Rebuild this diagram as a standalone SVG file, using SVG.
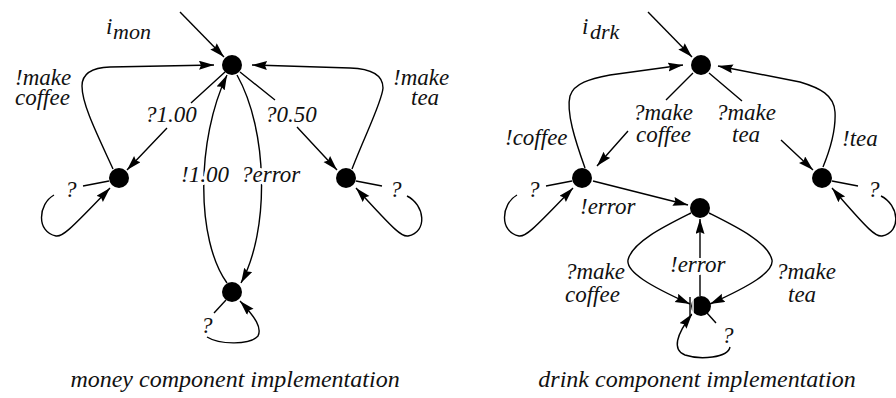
<svg xmlns="http://www.w3.org/2000/svg" width="896" height="398" viewBox="0 0 896 398">
<style>
.e{fill:none;stroke:#000;stroke-width:1.4}
.a{marker-end:url(#ah)}
.n{fill:#000}
.t{font-family:'Liberation Serif','Times New Roman','DejaVu Serif',serif;font-style:italic;font-size:23px;fill:#111}
.s{font-size:22px}
.h{paint-order:stroke;stroke:#fff;stroke-width:6px;stroke-linejoin:round}
.c{text-anchor:middle;font-size:24px}
</style>
<defs>
<marker id="ah" markerWidth="16" markerHeight="10" refX="15" refY="4.5" orient="auto" markerUnits="userSpaceOnUse">
<path d="M0,0 L15,4.5 L0,9 L2,4.5 z" fill="#000"/>
</marker>
</defs>
<rect width="896" height="398" fill="#fff"/>

<g id="connectors">
<path class="e a" d="M180,12 L224,57"/>
<path class="e a" d="M113,169 C96,132 82,104 82,86 Q82,68 110,67 L214,65"/>
<path class="e a" d="M225,72 L191,103 M167,128 L127,170"/>
<path class="e a" d="M227,283 C196,240 196,140 227,75"/>
<path class="e a" d="M237,75 C268,130 270,230 241,283"/>
<path class="e a" d="M240,72 L275,100 M297,127 L337,170"/>
<path class="e a" d="M352,169 C365,135 382,102 383,88 Q383,69 350,68 L252,65"/>
<path class="e" d="M109,181 L83,186"/>
<path class="e a" d="M54,195 C38,204 36,232 56,236 C62,237 68,232 110,188"/>
<path class="e" d="M356,181 L382,186"/>
<path class="e a" d="M407,196 C425,205 428,232 408,236 C402,237 396,232 356,188"/>
<path class="e" d="M226,300 L214,313"/>
<path class="e a" d="M207,337 C220,345 250,345 258,336 C262,328 256,318 240,301"/>
<path class="e a" d="M648,12 L692,57"/>
<path class="e a" d="M585,168 C575,140 566,112 570,96 C574,83 590,79 610,75 L683,65"/>
<path class="e a" d="M693,73 L666,100 M628,131 L597,166"/>
<path class="e a" d="M709,73 L742,101 M781,140 L813,170"/>
<path class="e a" d="M823,167 C830,150 836,130 835,112 C834,95 820,88 800,82 L718,66"/>
<path class="e a" d="M593,181 L688,205"/>
<path class="e a" d="M691,213 C665,226 632,242 628,260 C626,272 650,286 690,304"/>
<path class="e a" d="M709,213 C735,226 768,242 772,260 C774,272 750,286 710,304"/>
<path class="e a" d="M700,296 L700,219"/>
<path class="e" d="M572,181 L546,186"/>
<path class="e a" d="M517,195 C501,204 499,232 519,236 C525,237 531,232 573,188"/>
<path class="e" d="M832,181 L858,186"/>
<path class="e a" d="M881,196 C899,205 902,232 882,236 C876,237 870,232 832,188"/>
<path class="e" d="M707,313 L716,323"/>
<path class="e a" d="M730,347 C728,358 700,360 685,355 C672,350 676,335 692,314"/>
</g>

<g id="money-init"><circle class="n" cx="232" cy="65" r="10"/></g>
<g id="money-coffee"><circle class="n" cx="119" cy="178" r="10"/></g>
<g id="money-tea"><circle class="n" cx="346" cy="178" r="10"/></g>
<g id="money-error"><circle class="n" cx="232" cy="292" r="10"/></g>

<g id="drink-init"><circle class="n" cx="701" cy="65" r="10"/></g>
<g id="drink-coffee"><circle class="n" cx="582" cy="178" r="10"/></g>
<g id="drink-tea"><circle class="n" cx="822" cy="178" r="10"/></g>
<g id="drink-error"><circle class="n" cx="700" cy="208" r="10"/></g>
<g id="drink-fail"><circle class="n" cx="701" cy="306" r="10"/>
<path d="M693,297 L693,315" stroke="#fff" stroke-width="1.5"/>
<path d="M690,297 L690,316" stroke="#000" stroke-width="1.4"/>
</g>

<g id="labels" font-family="Liberation Serif, Times New Roman, serif">
<text class="t" x="106" y="34">i</text><text class="t s" x="113" y="39">mon</text>
<text class="t" x="15" y="85">!make</text>
<text class="t" x="15" y="105">coffee</text>
<text class="t" x="145" y="122">?1.00</text>
<text class="t" x="265" y="122">?0.50</text>
<text class="t h" x="181" y="182">!1.00</text>
<text class="t h" x="241" y="182">?error</text>
<text class="t" x="393" y="85">!make</text>
<text class="t" x="411" y="105">tea</text>
<text class="t" x="65" y="197">?</text>
<text class="t" x="390" y="197">?</text>
<text class="t" x="201" y="333">?</text>

<text class="t" x="582" y="34">i</text><text class="t s" x="590" y="39">drk</text>
<text class="t" x="505" y="145">!coffee</text>
<text class="t" x="633" y="120">?make</text>
<text class="t" x="636" y="142">coffee</text>
<text class="t" x="716" y="120">?make</text>
<text class="t" x="732" y="142">tea</text>
<text class="t" x="842" y="146">!tea</text>
<text class="t" x="528" y="197">?</text>
<text class="t" x="868" y="197">?</text>
<text class="t" x="580" y="214">!error</text>
<text class="t h" x="670" y="272">!error</text>
<text class="t" x="565" y="279">?make</text>
<text class="t" x="565" y="302">coffee</text>
<text class="t" x="776" y="279">?make</text>
<text class="t" x="788" y="302">tea</text>
<text class="t" x="722" y="343">?</text>

<text class="t c" x="235" y="387">money component implementation</text>
<text class="t c" x="697" y="387">drink component implementation</text>
</g>
</svg>
